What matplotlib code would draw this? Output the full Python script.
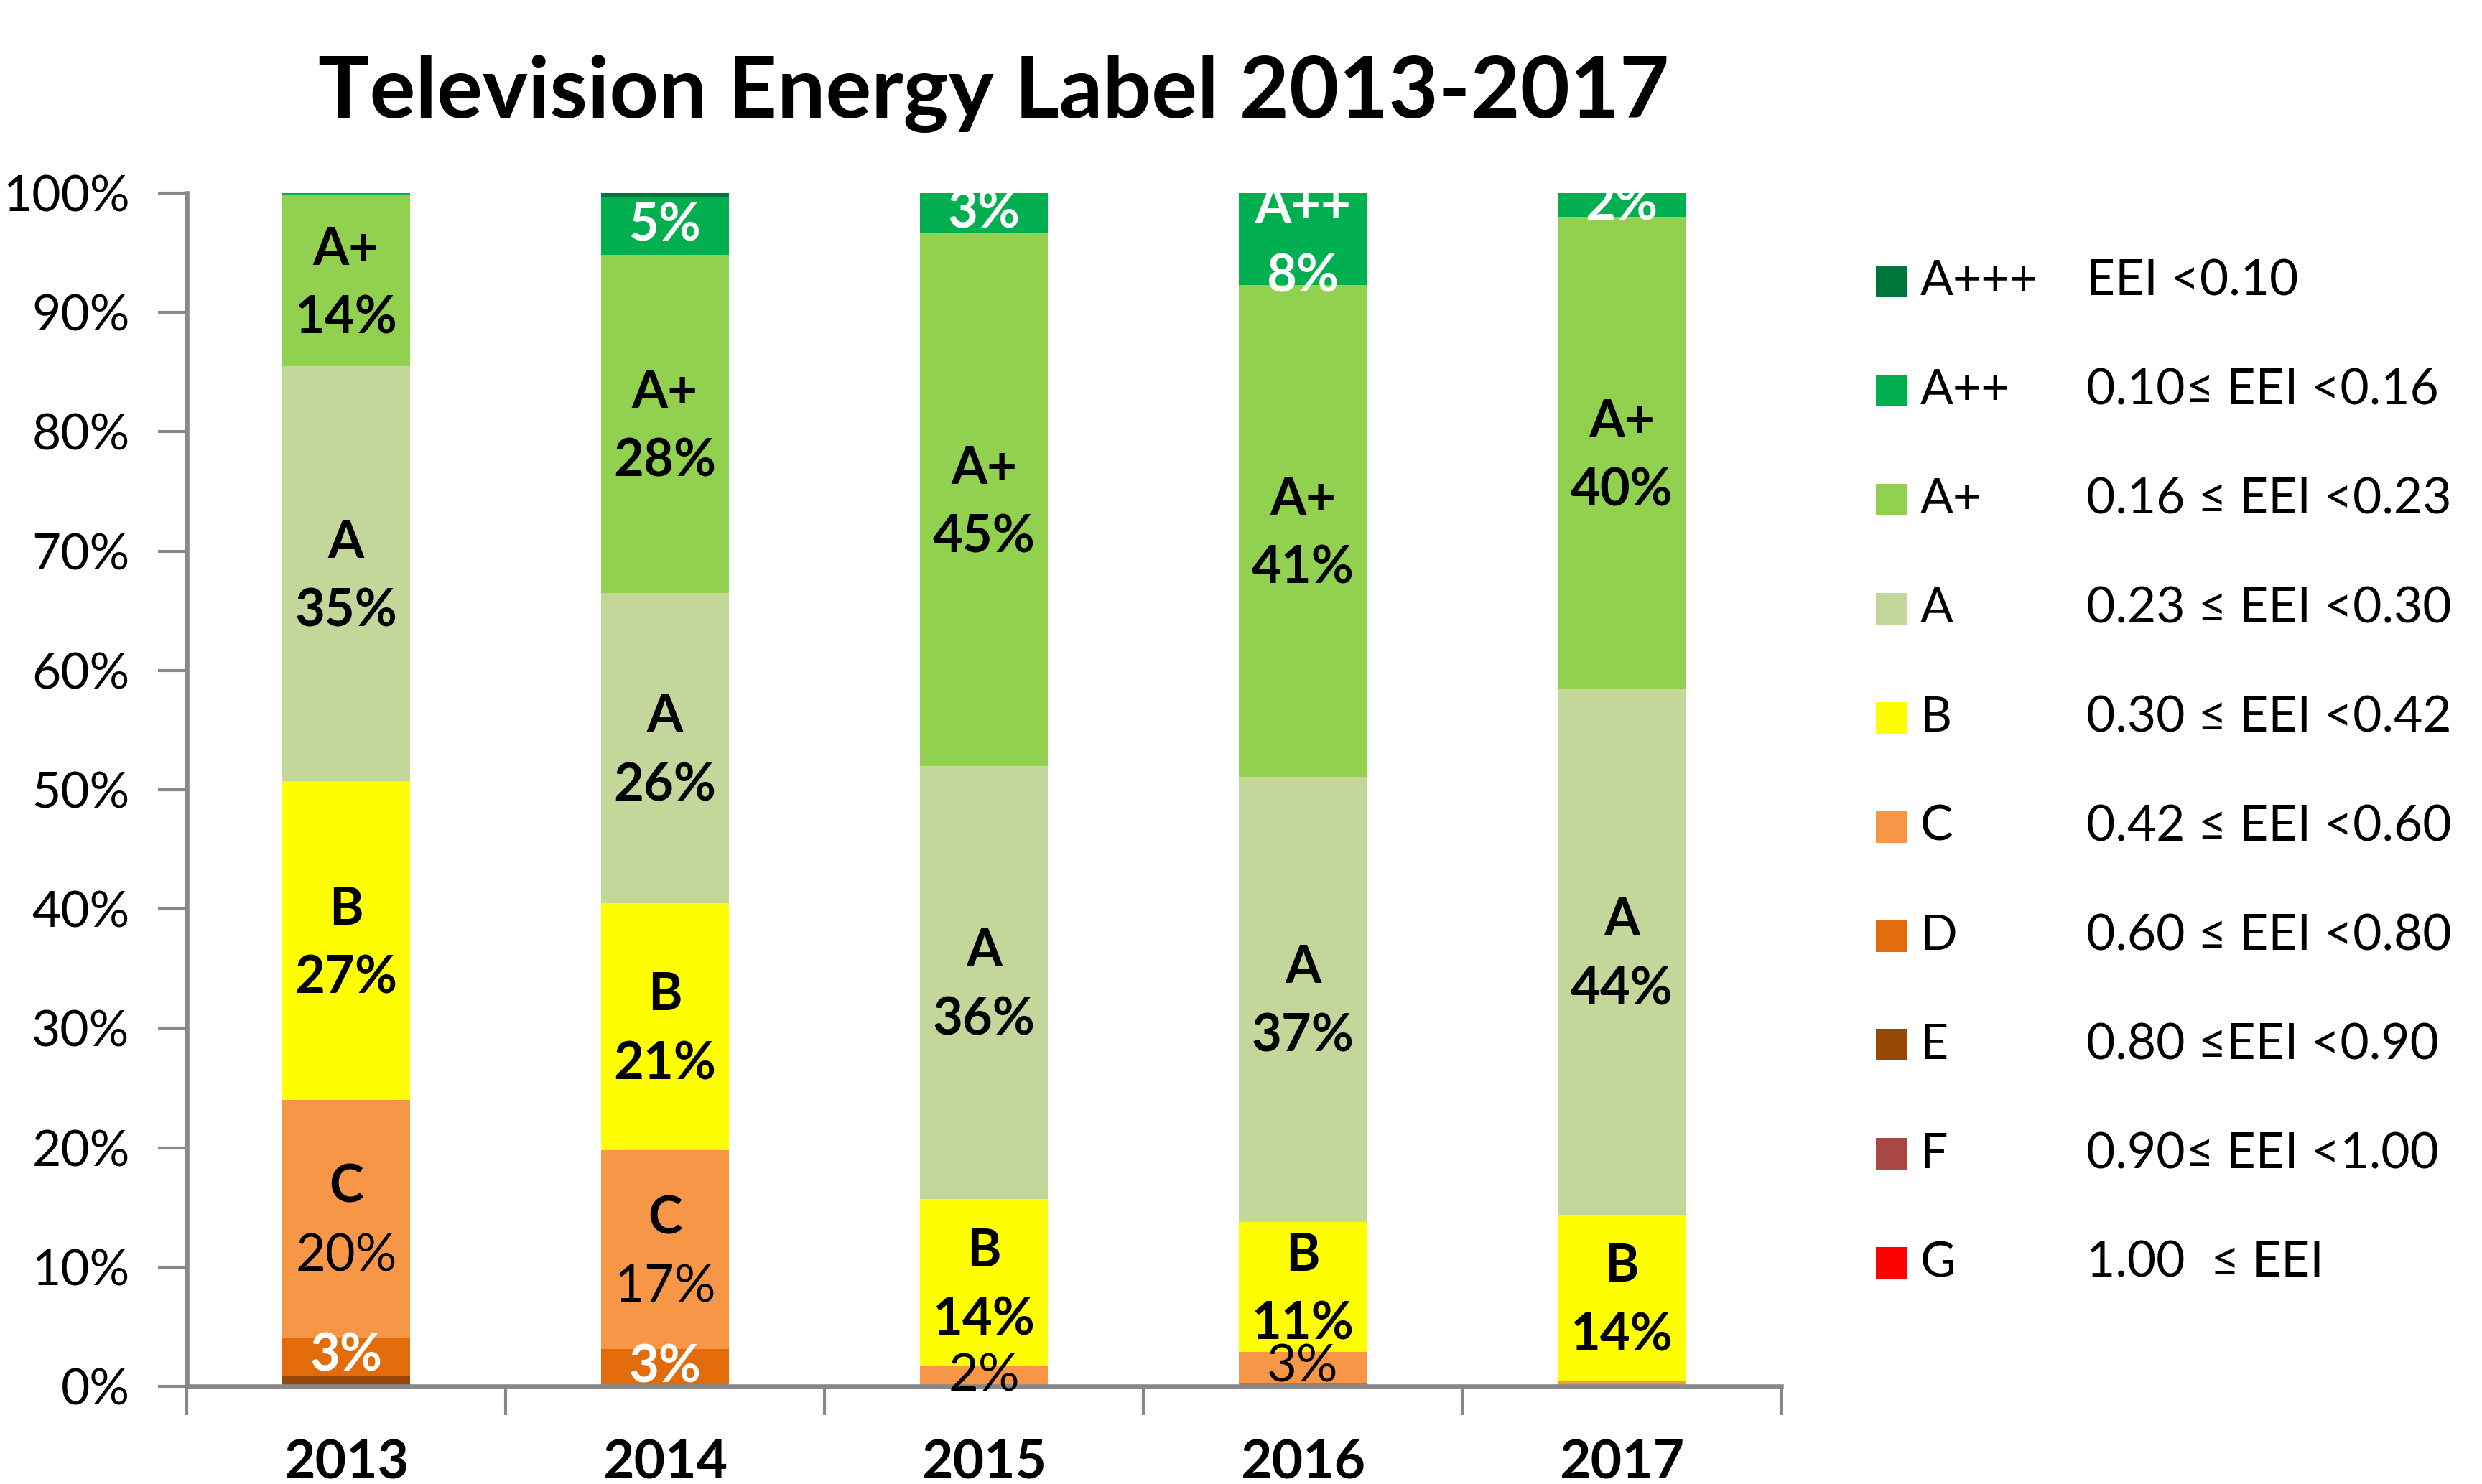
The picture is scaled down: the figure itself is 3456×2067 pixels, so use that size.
import numpy as np
import matplotlib
matplotlib.use('Agg')
import matplotlib.pyplot as plt
from matplotlib.patches import Rectangle

plt.rcParams['font.family'] = ['Lato', 'DejaVu Sans']

# data (share of models per energy class, %)
years = ['2013', '2014', '2015', '2016', '2017']
classes = ['G', 'F', 'E', 'D', 'C', 'B', 'A', 'A+', 'A++', 'A+++']
share_g = [0, 0, 0, 0, 0]
share_f = [0, 0, 0, 0, 0]
share_e = [0.9, 0, 0, 0, 0]
share_d = [3.2, 3.1, 0, 0.3, 0.1]
share_c = [19.9, 16.7, 1.7, 2.6, 0.3]
share_b = [26.7, 20.7, 14.0, 10.9, 14.0]
share_a = [34.8, 26.0, 36.3, 37.3, 44.0]
share_ap = [14.3, 28.3, 44.6, 41.2, 39.6]
share_app = [0.2, 4.9, 3.4, 7.7, 2.0]
share_appp = [0, 0.3, 0, 0, 0]
ranges = ['1.00  \u2264 EEI', '0.90\u2264 EEI <1.00', '0.80 \u2264EEI <0.90',
          '0.60 \u2264 EEI <0.80', '0.42 \u2264 EEI <0.60', '0.30 \u2264 EEI <0.42',
          '0.23 \u2264 EEI <0.30', '0.16 \u2264 EEI <0.23', '0.10\u2264 EEI <0.16',
          'EEI <0.10']
colors = ['#FF0000', '#A94744', '#974706', '#E26B0A', '#F79646', '#FFFF00',
          '#C4D79B', '#92D050', '#00B050', '#00763A']

shares = [share_g, share_f, share_e, share_d, share_c, share_b,
          share_a, share_ap, share_app, share_appp]

fig = plt.figure(figsize=(34.56, 20.67), dpi=100)
ax = fig.add_axes([0.0752, 0.0658, 0.6424, 0.8041])

x = np.arange(len(years))
bottom = np.zeros(len(years))
for cls, vals, col in zip(classes, shares, colors):
    vals = np.array(vals, dtype=float)
    ax.bar(x, vals, 0.4, bottom=bottom, color=col, linewidth=0)
    for i, v in enumerate(vals):
        if v < 1:
            continue
        mid = bottom[i] + v / 2
        tcol = 'white' if cls in ('D', 'A++', 'A+++') else 'black'
        pw = 'normal' if cls == 'C' else 'bold'
        pct = '%d%%' % int(round(v))
        if v >= 6:
            ax.annotate(cls, (x[i], mid), xytext=(0, 31), textcoords='offset points',
                        ha='center', va='center', fontsize=52, fontweight='bold', color=tcol)
            ax.annotate(pct, (x[i], mid), xytext=(0, -38), textcoords='offset points',
                        ha='center', va='center', fontsize=52, fontweight=pw, color=tcol)
        else:
            ax.text(x[i], mid, pct, ha='center', va='center', fontsize=52,
                    fontweight=pw, color=tcol)
    bottom += vals

ax.set_xlim(-0.5, len(years) - 0.5)
ax.set_ylim(0, 100)
ax.set_yticks(np.arange(0, 101, 10))
ax.set_yticklabels(['%d%%' % t for t in range(0, 101, 10)], fontsize=50)
ax.set_xticks(np.arange(len(years) + 1) - 0.5)
ax.set_xticklabels([])
ax.set_xticks(x, minor=True)
ax.set_xticklabels(years, minor=True, fontsize=54, fontweight='bold')
ax.tick_params(axis='x', which='minor', length=0, pad=52)
ax.tick_params(axis='x', which='major', length=29, width=3, color='#888888', direction='out')
ax.tick_params(axis='y', length=29, width=3, color='#888888', pad=28)
for s in ['top', 'right']:
    ax.spines[s].set_visible(False)
for s in ['left', 'bottom']:
    ax.spines[s].set_color('#888888')
    ax.spines[s].set_linewidth(4.75)

fig.text(0.4005, 0.9370, 'Television Energy Label 2013-2017', ha='center', va='center',
         fontsize=86, fontweight='bold')

# legend, A+++ on top
y0 = 0.8103
dy = 0.0735
for k in range(len(classes)):
    j = len(classes) - 1 - k
    yy = y0 - k * dy
    fig.patches.append(Rectangle((0.7558, yy - 0.0106), 0.0127, 0.0213,
                                 transform=fig.transFigure, color=colors[j], linewidth=0))
    fig.text(0.7737, yy, classes[j], ha='left', va='center', fontsize=49)
    fig.text(0.8405, yy, ranges[j], ha='left', va='center', fontsize=50)

fig.savefig('out.png', dpi=100)
